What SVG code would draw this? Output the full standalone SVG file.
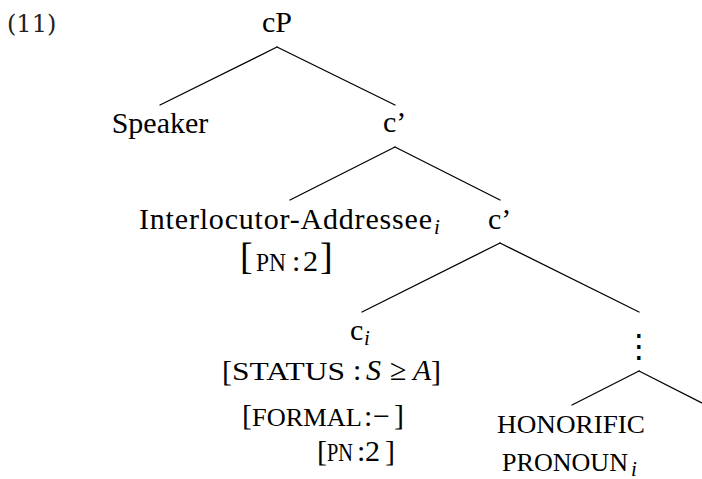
<svg xmlns="http://www.w3.org/2000/svg" width="702" height="479" viewBox="0 0 702 479">
<style>
.t{font-family:"Liberation Serif","Times New Roman",serif;font-size:30px;fill:#000}
.sc{font-size:26px}
.it{font-style:italic}
.sub{font-style:italic;font-size:21px}
.br{font-size:38px}
.num{font-family:"DejaVu Serif",serif;font-size:24px;fill:#222}
.e{stroke:#000;stroke-width:1.3;fill:none;stroke-linecap:round}
</style>
<rect width="702" height="479" fill="#fff"/>
<text class="num" x="7" y="32">(11)</text>
<g id="connectors">
<line class="e" x1="277" y1="47" x2="160" y2="105"/>
<line class="e" x1="277" y1="47" x2="395" y2="105"/>
<line class="e" x1="395" y1="147" x2="290" y2="200"/>
<line class="e" x1="395" y1="147" x2="500" y2="200"/>
<line class="e" x1="500" y1="243" x2="362" y2="312"/>
<line class="e" x1="500" y1="243" x2="639" y2="312"/>
<line class="e" x1="639" y1="371" x2="572" y2="405"/>
<line class="e" x1="639" y1="371" x2="708" y2="406"/>
</g>
<g id="cP"><text class="t" x="277" y="32" text-anchor="middle">cP</text></g>
<g id="speaker"><text class="t" x="160" y="133" text-anchor="middle">Speaker</text></g>
<g id="cbar1"><text class="t" x="383" y="132">c’</text></g>
<g id="addressee">
<text class="t" x="139" y="229" textLength="293" lengthAdjust="spacing">Interlocutor-Addressee</text>
<text class="t sub" x="434" y="234">i</text>
<text class="t br" x="240" y="269">[</text>
<text class="t sc" x="256" y="271" textLength="30" lengthAdjust="spacingAndGlyphs">PN</text>
<text class="t" x="292" y="271">:</text>
<text class="t" x="303" y="271">2</text>
<text class="t br" x="320" y="269">]</text>
</g>
<g id="cbar2"><text class="t" x="488" y="229">c’</text></g>
<g id="ci">
<text class="t" x="350" y="340">c</text>
<text class="t sub" x="364" y="345">i</text>
<text class="t" x="222" y="381">[</text>
<text class="t sc" x="232" y="380" textLength="113" lengthAdjust="spacingAndGlyphs">STATUS</text>
<text class="t" x="353" y="380">:</text>
<text class="t it" x="366" y="380">S</text>
<text class="t" x="390" y="380">≥</text>
<text class="t it" x="413" y="380">A</text>
<text class="t" x="431" y="381">]</text>
<text class="t" x="242" y="425">[</text>
<text class="t sc" x="252" y="426" textLength="110" lengthAdjust="spacingAndGlyphs">FORMAL</text>
<text class="t" x="364" y="426">:</text>
<text class="t" x="373" y="426">−</text>
<text class="t" x="394" y="425">]</text>
<text class="t" x="317" y="461">[</text>
<text class="t sc" x="327" y="461" textLength="26" lengthAdjust="spacingAndGlyphs">PN</text>
<text class="t" x="357" y="461">:</text>
<text class="t" x="365" y="461">2</text>
<text class="t" x="385" y="461">]</text>
</g>
<g id="dots"><text x="639" y="357" text-anchor="middle" style="font-family:'DejaVu Sans',sans-serif;font-size:32px">⋮</text></g>
<g id="pronoun">
<text class="t sc" x="497" y="433" textLength="148" lengthAdjust="spacingAndGlyphs">HONORIFIC</text>
<text class="t sc" x="502" y="471" textLength="126" lengthAdjust="spacingAndGlyphs">PRONOUN</text>
<text class="t sub" x="631" y="476">i</text>
</g>
</svg>
